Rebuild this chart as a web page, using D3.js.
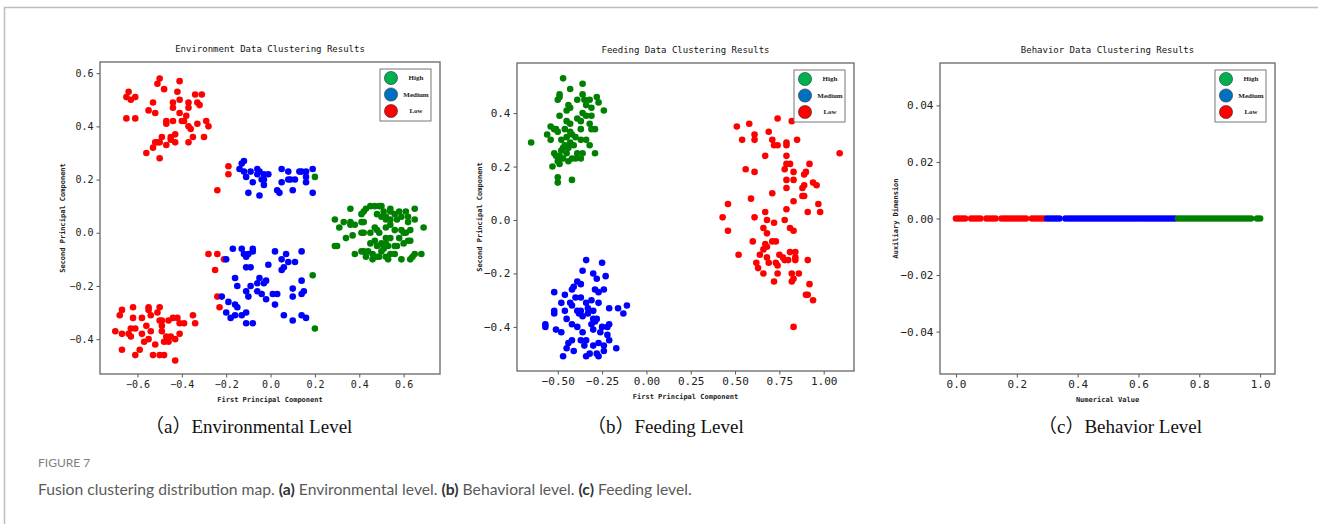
<!DOCTYPE html>
<html>
<head>
<meta charset="utf-8">
<script src="https://cdnjs.cloudflare.com/ajax/libs/d3/7.8.5/d3.min.js"></script>
<style>
  body { margin: 0; background: #fff; }
  svg { display: block; }
</style>
</head>
<body>
<svg id="chart"></svg>
<script>
// ---- data ----
const legendLabels = ["High", "Medium", "Low"];

// (a) environment, [first PC, second PC]
const envLow = [[-0.50,0.58],[-0.51,0.56],[-0.41,0.57],[-0.48,0.54],[-0.64,0.53],[-0.61,0.51],[-0.65,0.51],[-0.63,0.50],[-0.42,0.53],[-0.41,0.50],[-0.34,0.52],[-0.31,0.52],[-0.53,0.49],[-0.44,0.49],[-0.44,0.47],[-0.37,0.49],[-0.37,0.47],[-0.33,0.49],[-0.32,0.48],[-0.55,0.46],[-0.52,0.45],[-0.41,0.45],[-0.65,0.43],[-0.61,0.43],[-0.38,0.44],[-0.40,0.42],[-0.39,0.42],[-0.47,0.42],[-0.47,0.41],[-0.44,0.42],[-0.37,0.40],[-0.36,0.39],[-0.33,0.41],[-0.29,0.42],[-0.28,0.40],[-0.49,0.36],[-0.45,0.36],[-0.43,0.37],[-0.45,0.35],[-0.52,0.34],[-0.51,0.34],[-0.50,0.34],[-0.47,0.33],[-0.43,0.34],[-0.37,0.34],[-0.35,0.36],[-0.30,0.36],[-0.53,0.32],[-0.56,0.30],[-0.50,0.28],
  [-0.19,0.25],[-0.19,0.22],[-0.24,0.16],[-0.28,-0.08],[-0.24,-0.08],[-0.21,-0.10],[-0.25,-0.14],[-0.24,-0.24],[-0.23,-0.28],
  [-0.67,-0.29],[-0.68,-0.31],[-0.62,-0.28],[-0.55,-0.28],[-0.55,-0.29],[-0.50,-0.28],[-0.54,-0.31],[-0.51,-0.30],[-0.62,-0.32],[-0.58,-0.32],[-0.50,-0.33],[-0.49,-0.33],[-0.46,-0.33],[-0.44,-0.32],[-0.42,-0.32],[-0.41,-0.34],[-0.39,-0.34],[-0.35,-0.31],[-0.34,-0.34],[-0.63,-0.36],[-0.61,-0.36],[-0.56,-0.35],[-0.49,-0.35],[-0.70,-0.37],[-0.67,-0.38],[-0.64,-0.38],[-0.63,-0.39],[-0.58,-0.38],[-0.54,-0.37],[-0.55,-0.40],[-0.57,-0.41],[-0.52,-0.42],[-0.48,-0.41],[-0.46,-0.41],[-0.45,-0.39],[-0.43,-0.40],[-0.41,-0.38],[-0.67,-0.44],[-0.59,-0.44],[-0.61,-0.46],[-0.53,-0.46],[-0.50,-0.46],[-0.48,-0.46],[-0.43,-0.48],[-0.47,-0.39],[-0.49,-0.37]];
const envMedium = [[-0.12,0.27],[-0.13,0.26],[-0.14,0.24],[-0.12,0.23],[-0.11,0.21],[-0.09,0.23],[-0.06,0.24],[-0.05,0.23],[-0.06,0.22],[-0.03,0.22],[-0.01,0.22],[-0.04,0.20],[-0.03,0.20],[-0.08,0.19],[-0.03,0.18],[-0.10,0.15],[-0.05,0.14],[0.05,0.24],[0.08,0.23],[0.13,0.23],[0.14,0.23],[0.16,0.23],[0.19,0.24],[0.08,0.20],[0.09,0.20],[0.11,0.20],[0.16,0.21],[0.05,0.19],[0.16,0.19],[0.03,0.16],[0.04,0.15],[0.10,0.16],[0.19,0.15],
  [-0.20,-0.10],[-0.17,-0.06],[-0.13,-0.06],[-0.08,-0.06],[-0.08,-0.07],[-0.12,-0.08],[-0.11,-0.09],[-0.10,-0.08],[0.02,-0.07],[0.07,-0.08],[0.05,-0.10],[0.08,-0.11],[0.11,-0.11],[0.14,-0.07],[0.06,-0.13],[0.05,-0.14],[-0.01,-0.12],[-0.11,-0.13],[-0.09,-0.13],[-0.16,-0.17],[-0.05,-0.17],[-0.02,-0.18],[-0.03,-0.19],[-0.06,-0.19],[-0.09,-0.20],[-0.15,-0.20],[-0.11,-0.22],[-0.06,-0.22],[-0.04,-0.23],[-0.10,-0.24],[0.01,-0.23],[0.03,-0.23],[0.10,-0.21],[0.14,-0.18],[0.10,-0.24],[0.15,-0.22],[0.14,-0.23],[-0.02,-0.25],[0.02,-0.27],[-0.22,-0.24],[-0.19,-0.26],[-0.16,-0.27],[-0.15,-0.28],[-0.11,-0.30],[-0.13,-0.31],[-0.20,-0.30],[-0.18,-0.32],[-0.16,-0.31],[0.06,-0.31],[0.10,-0.33],[0.14,-0.31],[0.16,-0.32],[-0.11,-0.34],[-0.08,-0.34]];
const envHigh = [[0.36,0.09],[0.45,0.10],[0.47,0.10],[0.49,0.10],[0.50,0.10],[0.54,0.09],[0.54,0.08],[0.51,0.08],[0.52,0.06],[0.56,0.07],[0.58,0.08],[0.61,0.08],[0.65,0.09],[0.42,0.08],[0.41,0.07],[0.43,0.09],[0.48,0.07],[0.50,0.06],[0.52,0.05],[0.54,0.05],[0.57,0.05],[0.59,0.06],[0.62,0.06],[0.65,0.05],[0.29,0.05],[0.33,0.04],[0.36,0.04],[0.36,0.03],[0.38,0.03],[0.31,0.02],[0.41,0.04],[0.42,0.04],[0.47,0.02],[0.48,0.01],[0.45,0.00],[0.41,0.00],[0.42,0.00],[0.37,-0.01],[0.34,-0.02],[0.56,0.01],[0.59,0.01],[0.60,0.00],[0.63,0.01],[0.62,0.04],[0.69,0.02],[0.49,0.00],[0.52,-0.02],[0.54,-0.02],[0.50,-0.04],[0.45,-0.04],[0.47,-0.03],[0.48,-0.05],[0.53,-0.05],[0.56,-0.05],[0.57,-0.05],[0.62,-0.03],[0.60,-0.04],[0.63,-0.03],[0.29,-0.05],[0.30,-0.05],[0.38,-0.08],[0.41,-0.07],[0.42,-0.07],[0.44,-0.07],[0.46,-0.08],[0.48,-0.09],[0.50,-0.07],[0.51,-0.06],[0.52,-0.09],[0.54,-0.08],[0.56,-0.08],[0.59,-0.10],[0.63,-0.10],[0.64,-0.09],[0.65,-0.08],[0.68,-0.08],[0.53,-0.10],[0.46,-0.10],[0.49,-0.09],[0.43,-0.09],[0.51,-0.05],[0.52,-0.04],[0.58,-0.02],[0.61,0.00],[0.54,0.03],[0.52,0.02],
  [0.20,0.21],[0.19,-0.16],[0.20,-0.36]];

// (b) feeding, [first PC, second PC]
const feedHigh = [[-0.47,0.53],[-0.36,0.51],[-0.43,0.49],[-0.28,0.46],[-0.49,0.47],[-0.50,0.45],[-0.49,0.46],[-0.39,0.45],[-0.36,0.47],[-0.35,0.45],[-0.32,0.45],[-0.27,0.44],[-0.44,0.43],[-0.43,0.42],[-0.34,0.43],[-0.31,0.42],[-0.24,0.41],[-0.45,0.41],[-0.49,0.39],[-0.36,0.40],[-0.34,0.39],[-0.31,0.39],[-0.39,0.38],[-0.37,0.37],[-0.45,0.37],[-0.43,0.36],[-0.32,0.36],[-0.29,0.34],[-0.31,0.34],[-0.54,0.35],[-0.52,0.34],[-0.51,0.34],[-0.50,0.33],[-0.56,0.32],[-0.54,0.30],[-0.65,0.29],[-0.48,0.30],[-0.45,0.31],[-0.42,0.32],[-0.40,0.31],[-0.37,0.30],[-0.34,0.30],[-0.46,0.28],[-0.43,0.29],[-0.41,0.28],[-0.32,0.28],[-0.44,0.27],[-0.48,0.26],[-0.52,0.25],[-0.51,0.24],[-0.39,0.25],[-0.36,0.25],[-0.29,0.25],[-0.49,0.24],[-0.47,0.23],[-0.42,0.23],[-0.40,0.23],[-0.37,0.23],[-0.50,0.22],[-0.53,0.20],[-0.49,0.21],[-0.44,0.22],[-0.50,0.16],[-0.50,0.14],[-0.42,0.15],[-0.46,0.34],[-0.43,0.33],[-0.37,0.34],[-0.47,0.27],[-0.45,0.25]];
const feedMedium = [[-0.34,-0.15],[-0.25,-0.16],[-0.36,-0.19],[-0.30,-0.20],[-0.28,-0.22],[-0.23,-0.21],[-0.39,-0.23],[-0.37,-0.24],[-0.41,-0.25],[-0.42,-0.26],[-0.29,-0.26],[-0.27,-0.27],[-0.24,-0.26],[-0.52,-0.27],[-0.46,-0.28],[-0.40,-0.29],[-0.37,-0.29],[-0.48,-0.31],[-0.43,-0.31],[-0.31,-0.30],[-0.27,-0.31],[-0.37,-0.34],[-0.33,-0.33],[-0.30,-0.34],[-0.52,-0.34],[-0.52,-0.35],[-0.46,-0.34],[-0.42,-0.32],[-0.21,-0.33],[-0.16,-0.33],[-0.11,-0.32],[-0.13,-0.35],[-0.38,-0.35],[-0.33,-0.35],[-0.30,-0.37],[-0.28,-0.37],[-0.36,-0.36],[-0.57,-0.39],[-0.57,-0.40],[-0.51,-0.41],[-0.48,-0.42],[-0.39,-0.40],[-0.36,-0.42],[-0.31,-0.39],[-0.29,-0.38],[-0.25,-0.40],[-0.22,-0.40],[-0.21,-0.39],[-0.30,-0.41],[-0.22,-0.43],[-0.42,-0.45],[-0.44,-0.46],[-0.37,-0.45],[-0.34,-0.45],[-0.27,-0.46],[-0.24,-0.47],[-0.45,-0.48],[-0.41,-0.49],[-0.35,-0.47],[-0.30,-0.47],[-0.21,-0.45],[-0.17,-0.48],[-0.47,-0.51],[-0.34,-0.51],[-0.32,-0.50],[-0.27,-0.51],[-0.28,-0.50],[-0.24,-0.49],[-0.39,-0.34],[-0.34,-0.31],[-0.45,-0.37],[-0.42,-0.39],[-0.26,-0.42]];
const feedLow = [[0.74,0.38],[0.82,0.37],[0.51,0.35],[0.58,0.36],[0.54,0.30],[0.61,0.32],[0.61,0.30],[0.69,0.33],[0.71,0.30],[0.72,0.28],[0.74,0.28],[0.79,0.29],[0.79,0.28],[0.85,0.30],[1.09,0.25],[0.67,0.24],[0.79,0.24],[0.56,0.19],[0.61,0.18],[0.79,0.21],[0.81,0.21],[0.78,0.19],[0.83,0.18],[0.92,0.21],[0.90,0.18],[0.89,0.17],[0.79,0.15],[0.83,0.15],[0.89,0.13],[0.88,0.12],[0.94,0.14],[0.96,0.13],[0.79,0.12],[0.71,0.10],[0.59,0.08],[0.88,0.09],[0.89,0.09],[0.83,0.07],[0.46,0.06],[0.67,0.03],[0.79,0.04],[0.91,0.03],[0.97,0.06],[0.98,0.03],[0.43,0.01],[0.61,0.01],[0.68,0.00],[0.78,0.00],[0.72,-0.01],[0.46,-0.04],[0.66,-0.03],[0.68,-0.05],[0.81,-0.03],[0.83,-0.04],[0.71,-0.08],[0.73,-0.08],[0.60,-0.08],[0.67,-0.09],[0.68,-0.10],[0.66,-0.11],[0.52,-0.13],[0.64,-0.13],[0.68,-0.14],[0.69,-0.16],[0.62,-0.16],[0.63,-0.18],[0.73,-0.16],[0.74,-0.17],[0.75,-0.13],[0.77,-0.14],[0.78,-0.15],[0.80,-0.15],[0.81,-0.12],[0.84,-0.12],[0.84,-0.14],[0.84,-0.15],[0.91,-0.15],[0.66,-0.20],[0.72,-0.23],[0.74,-0.20],[0.82,-0.20],[0.83,-0.22],[0.82,-0.23],[0.86,-0.20],[0.92,-0.24],[0.90,-0.28],[0.91,-0.28],[0.94,-0.30],[0.83,-0.40]];

// (c) behaviour, numerical value (auxiliary dimension is 0)
const behLow = [0.00,0.01,0.02,0.03,0.05,0.06,0.07,0.08,0.10,0.11,0.12,0.13,0.15,0.16,0.17,0.18,0.19,0.20,0.21,0.22,0.23,0.25,0.26,0.27,0.28,0.29];
const behMedium = [0.30,0.31,0.32,0.33,0.34,0.36,0.37,0.38,0.39,0.40,0.41,0.42,0.43,0.44,0.45,0.46,0.47,0.48,0.49,0.50,0.51,0.52,0.53,0.54,0.55,0.56,0.57,0.58,0.59,0.60,0.61,0.62,0.63,0.64,0.65,0.66,0.67,0.68,0.69,0.70,0.71,0.72];
const behHigh = [0.73,0.74,0.75,0.76,0.77,0.78,0.79,0.80,0.81,0.82,0.83,0.84,0.85,0.86,0.87,0.88,0.89,0.90,0.91,0.92,0.93,0.94,0.95,0.96,0.97,0.99,1.00];

// tick values
const envXTicks = [-0.6, -0.4, -0.2, 0.0, 0.2, 0.4, 0.6];
const envYTicks = [-0.4, -0.2, 0.0, 0.2, 0.4, 0.6];
const feedXTicks = [-0.5, -0.25, 0.0, 0.25, 0.5, 0.75, 1.0];
const feedYTicks = [-0.4, -0.2, 0.0, 0.2, 0.4];
const behXTicks = [0.0, 0.2, 0.4, 0.6, 0.8, 1.0];
const behYTicks = [-0.04, -0.02, 0.0, 0.02, 0.04];

// ---- drawing ----
const width = 1318, height = 524;
const dotColor = { High: "#008000", Medium: "#0000ff", Low: "#ff0000" };
const legendColor = { High: "#00b050", Medium: "#0070c0", Low: "#ff0000" };
const mono = "'DejaVu Sans Mono', monospace";
const serif = "'Liberation Serif', 'Times New Roman', 'Noto Sans CJK SC', serif";

const svg = d3.select("#chart")
    .attr("width", width)
    .attr("height", height);

// outer figure frame
svg.append("rect")
    .attr("x", 4.5).attr("y", 7.5)
    .attr("width", 1400).attr("height", 600)
    .attr("fill", "none")
    .attr("stroke", "#bdbdbd")
    .attr("stroke-width", 1.5);

const panels = [
    {
        title: "Environment Data Clustering Results",
        xLabel: "First Principal Component", yLabel: "Second Principal Component",
        caption: "（a）Environmental Level", captionX: 145,
        left: 100, right: 440, top: 62, bottom: 374,
        xDomain: [-0.769, 0.764], yDomain: [-0.531, 0.642],
        xTicks: envXTicks, yTicks: envYTicks, xFmt: ".1f", yFmt: ".1f", tickFont: 10,
        yLabelX: 62,
        series: [["Low", envLow], ["Medium", envMedium], ["High", envHigh]]
    },
    {
        title: "Feeding Data Clustering Results",
        xLabel: "First Principal Component", yLabel: "Second Principal Component",
        caption: "（b）Feeding Level", captionX: 587,
        left: 517, right: 854, top: 63, bottom: 371,
        xDomain: [-0.73, 1.171], yDomain: [-0.565, 0.5875],
        xTicks: feedXTicks, yTicks: feedYTicks, xFmt: ".2f", yFmt: ".1f", tickFont: 11,
        yLabelX: 479,
        series: [["High", feedHigh], ["Medium", feedMedium], ["Low", feedLow]]
    },
    {
        title: "Behavior Data Clustering Results",
        xLabel: "Numerical Value", yLabel: "Auxiliary Dimension",
        caption: "（c）Behavior Level", captionX: 1038,
        left: 940, right: 1275, top: 63, bottom: 374,
        xDomain: [-0.0526, 1.049], yDomain: [-0.055, 0.055],
        xTicks: behXTicks, yTicks: behYTicks, xFmt: ".1f", yFmt: ".2f", tickFont: 11,
        yLabelX: 895,
        series: [["Low", behLow.map(v => [v, 0])], ["Medium", behMedium.map(v => [v, 0])], ["High", behHigh.map(v => [v, 0])]]
    }
];

panels.forEach(p => {
    const x = d3.scaleLinear().domain(p.xDomain).range([p.left, p.right]);
    const y = d3.scaleLinear().domain(p.yDomain).range([p.bottom, p.top]);
    const g = svg.append("g");

    // points
    p.series.forEach(([name, pts]) => {
        g.append("g")
            .selectAll("circle").data(pts).enter().append("circle")
            .attr("cx", d => x(d[0]))
            .attr("cy", d => y(d[1]))
            .attr("r", 3.3)
            .attr("fill", dotColor[name]);
    });

    // axes
    const xAxis = g.append("g")
        .attr("transform", `translate(0,${p.bottom})`)
        .call(d3.axisBottom(x).tickValues(p.xTicks).tickFormat(d3.format(p.xFmt))
            .tickSize(3.5).tickPadding(3).tickSizeOuter(0));
    const yAxis = g.append("g")
        .attr("transform", `translate(${p.left},0)`)
        .call(d3.axisLeft(y).tickValues(p.yTicks).tickFormat(d3.format(p.yFmt))
            .tickSize(3.5).tickPadding(3).tickSizeOuter(0));
    [xAxis, yAxis].forEach(a => {
        a.select(".domain").remove();
        a.selectAll(".tick line").attr("stroke", "#555");
        a.selectAll(".tick text")
            .attr("fill", "#222")
            .attr("font-family", mono)
            .attr("font-size", p.tickFont);
    });

    // frame
    g.append("rect")
        .attr("x", p.left).attr("y", p.top)
        .attr("width", p.right - p.left).attr("height", p.bottom - p.top)
        .attr("fill", "none")
        .attr("stroke", "#666")
        .attr("stroke-width", 1.3);

    // title and axis labels
    g.append("text")
        .attr("x", (p.left + p.right) / 2).attr("y", p.top - 10)
        .attr("text-anchor", "middle")
        .attr("font-family", mono).attr("font-size", 9)
        .attr("fill", "#111")
        .text(p.title);
    g.append("text")
        .attr("x", (p.left + p.right) / 2).attr("y", p.bottom + 28)
        .attr("text-anchor", "middle")
        .attr("font-family", mono).attr("font-size", 7).attr("font-weight", "bold")
        .attr("fill", "#222")
        .text(p.xLabel);
    g.append("text")
        .attr("transform", `translate(${p.yLabelX + 2.5},${(p.top + p.bottom) / 2}) rotate(-90)`)
        .attr("text-anchor", "middle")
        .attr("font-family", mono).attr("font-size", 7).attr("font-weight", "bold")
        .attr("fill", "#222")
        .text(p.yLabel);

    // legend
    const lw = 51, lh = 52;
    const lx = p.right - 9 - lw, ly = p.top + 7;
    const legend = g.append("g").attr("transform", `translate(${lx},${ly})`);
    legend.append("rect")
        .attr("width", lw).attr("height", lh)
        .attr("fill", "#fff")
        .attr("stroke", "#777").attr("stroke-width", 1);
    const item = legend.selectAll("g.item").data(legendLabels).enter().append("g")
        .attr("class", "item")
        .attr("transform", (d, i) => `translate(0,${9 + i * 16.5})`);
    item.append("circle")
        .attr("cx", 11).attr("r", 6.6)
        .attr("fill", d => legendColor[d])
        .attr("stroke", "#333").attr("stroke-width", 0.6);
    item.append("text")
        .attr("x", 36).attr("dy", "0.35em")
        .attr("text-anchor", "middle")
        .attr("font-family", serif).attr("font-size", 7).attr("font-weight", "bold")
        .attr("fill", "#222")
        .text(d => d);

    // sub caption
    svg.append("text")
        .attr("x", p.captionX).attr("y", 433)
        .attr("font-family", serif).attr("font-size", 19)
        .attr("fill", "#111")
        .text(p.caption);
});

// figure caption
svg.append("text")
    .attr("x", 38).attr("y", 467)
    .attr("font-family", "Lato, 'Open Sans', sans-serif").attr("font-size", 12)
    .attr("fill", "#808080")
    .text("FIGURE 7");

const cap = svg.append("text")
    .attr("x", 38).attr("y", 495)
    .attr("font-family", "Lato, 'Open Sans', sans-serif").attr("font-size", 15.7)
    .attr("fill", "#5a5a5a");
[["Fusion clustering distribution map. ", false], ["(a)", true], [" Environmental level. ", false],
 ["(b)", true], [" Behavioral level. ", false], ["(c)", true], [" Feeding level.", false]]
    .forEach(([t, b]) => cap.append("tspan")
        .attr("font-weight", b ? "bold" : null)
        .attr("fill", b ? "#333" : null)
        .text(t));
</script>
</body>
</html>
